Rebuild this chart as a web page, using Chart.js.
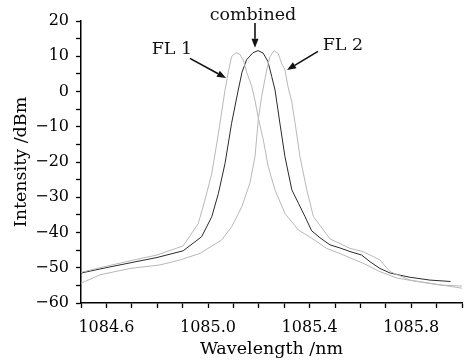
<!DOCTYPE html>
<html>
<head>
<meta charset="utf-8">
<script src="https://cdn.jsdelivr.net/npm/chart.js@4/dist/chart.umd.min.js"></script>
<style>
  html, body { margin: 0; padding: 0; background: #fff; }
  #wrap { width: 472px; height: 360px; }
</style>
</head>
<body>
<div id="wrap"><canvas id="chart_spec" width="472" height="360"></canvas></div>
<script>
// spectra (wavelength nm / intensity dBm)
var combWl = [1084.500, 1084.598, 1084.701, 1084.799, 1084.902, 1084.975, 1085.015, 1085.041, 1085.067, 1085.093,
              1085.119, 1085.134, 1085.152, 1085.177, 1085.197, 1085.217, 1085.236, 1085.251, 1085.264, 1085.283,
              1085.303, 1085.330, 1085.356, 1085.382, 1085.408, 1085.441, 1085.480, 1085.520, 1085.559, 1085.605,
              1085.638, 1085.677, 1085.717, 1085.795, 1085.874, 1085.955];
var combDb = [-51.5, -50.0, -48.5, -47.1, -45.2, -41.2, -35.5, -28.9, -20.4, -9.0,
              0.4, 5.5, 9.0, 11.0, 11.6, 10.9, 8.5, 4.2, 0.4, -9.0,
              -18.5, -27.9, -31.7, -35.5, -39.5, -41.5, -43.5, -44.4, -45.4, -46.4,
              -48.3, -50.2, -51.5, -52.7, -53.5, -53.9];

var fl1Wl = [1084.500, 1084.598, 1084.701, 1084.799, 1084.902, 1084.962, 1084.988, 1085.015, 1085.041, 1085.067,
             1085.079, 1085.093, 1085.110, 1085.126, 1085.140, 1085.152, 1085.172, 1085.185, 1085.198, 1085.218,
             1085.237, 1085.264, 1085.303, 1085.356, 1085.408, 1085.467, 1085.520, 1085.610, 1085.677, 1085.743,
             1085.822, 1085.913, 1086.000];
var fl1Db = [-51.3, -49.6, -47.9, -46.4, -43.8, -37.4, -30.8, -23.2, -11.9, 0.4,
             5.2, 9.9, 11.0, 10.5, 8.7, 5.5, 1.5, -2.5, -7.5, -13.8,
             -21.3, -28.0, -34.6, -39.3, -41.6, -44.5, -46.0, -48.7, -51.1, -52.9,
             -53.9, -54.9, -55.2];

var fl2Wl = [1084.500, 1084.575, 1084.693, 1084.811, 1084.890, 1084.969, 1085.054, 1085.093, 1085.133, 1085.165,
             1085.185, 1085.198, 1085.211, 1085.231, 1085.244, 1085.260, 1085.276, 1085.290, 1085.303, 1085.315,
             1085.330, 1085.343, 1085.362, 1085.389, 1085.415, 1085.441, 1085.480, 1085.559, 1085.610, 1085.650,
             1085.677, 1085.697, 1085.717, 1085.795, 1085.874, 1086.000];
var fl2Db = [-54.4, -52.0, -50.2, -49.2, -47.8, -45.9, -42.1, -38.4, -32.7, -26.0,
             -18.5, -8.0, -1.5, 6.1, 9.9, 11.6, 10.8, 8.0, 6.1, 1.4,
             -3.0, -9.0, -18.5, -27.9, -35.5, -38.0, -41.8, -44.5, -45.4, -46.8,
             -47.8, -49.5, -51.1, -53.5, -54.4, -55.8];

var xMin = 1084.5, xMax = 1086.0;
var yMin = -60, yMax = 20;

function pts(wl, db) {
    var out = [];
    for (var i = 0; i < wl.length; i++) out.push({x: wl[i], y: db[i]});
    return out;
}

var FONT = 'DejaVu Serif';

// labels with arrows, placed in data units
var notes = [
    {text: 'combined', tx: 1085.177, ty: 21.7, ax: 1085.185, ay: 19.4, bx: 1085.185, by: 12.4},
    {text: 'FL 1',     tx: 1084.858, ty: 11.8, ax: 1084.929, ay: 9.4,  bx: 1085.071, by: 3.8},
    {text: 'FL 2',     tx: 1085.531, ty: 13.2, ax: 1085.433, ay: 11.4, bx: 1085.311, by: 6.1}
];

var notePlugin = {
    id: 'notes',
    afterDatasetsDraw: function(chart) {
        var c = chart.ctx, xs = chart.scales.x, ys = chart.scales.y;
        c.save();
        c.fillStyle = '#111';
        c.strokeStyle = '#111';
        c.lineWidth = 1.6;
        c.font = '17.5px "' + FONT + '"';
        c.textAlign = 'center';
        c.textBaseline = 'middle';
        notes.forEach(function(n) {
            c.fillText(n.text, xs.getPixelForValue(n.tx), ys.getPixelForValue(n.ty));
            var x1 = xs.getPixelForValue(n.ax), y1 = ys.getPixelForValue(n.ay);
            var x2 = xs.getPixelForValue(n.bx), y2 = ys.getPixelForValue(n.by);
            var a = Math.atan2(y2 - y1, x2 - x1), L = 9, W = 3.5;
            var bx = x2 - L * Math.cos(a), by = y2 - L * Math.sin(a);
            c.beginPath();
            c.moveTo(x1, y1);
            c.lineTo(bx, by);
            c.stroke();
            c.beginPath();
            c.moveTo(x2, y2);
            c.lineTo(bx + W * Math.sin(a), by - W * Math.cos(a));
            c.lineTo(bx - W * Math.sin(a), by + W * Math.cos(a));
            c.closePath();
            c.fill();
        });
        c.restore();
    }
};

var ctx = document.getElementById('chart_spec').getContext('2d');
var chart = new Chart(ctx, {
    type: 'line',
    data: {
        datasets: [
            {label: 'FL 1', data: pts(fl1Wl, fl1Db), borderColor: '#b8b8b8', borderWidth: 1},
            {label: 'FL 2', data: pts(fl2Wl, fl2Db), borderColor: '#b8b8b8', borderWidth: 1},
            {label: 'combined', data: pts(combWl, combDb), borderColor: '#2a2a2a', borderWidth: 1}
        ]
    },
    options: {
        responsive: false,
        animation: false,
        events: [],
        elements: {point: {radius: 0}, line: {tension: 0}},
        layout: {padding: {top: 21, right: 10, left: 0, bottom: 0}},
        plugins: {legend: {display: false}, tooltip: {enabled: false}},
        scales: {
            x: {
                type: 'linear',
                min: xMin, max: xMax,
                afterFit: function(s) { s.height = 57; },
                border: {color: '#000', width: 1.5},
                grid: {drawOnChartArea: false, tickLength: 5, color: '#000', tickWidth: 1.3},
                ticks: {
                    stepSize: 0.1,
                    autoSkip: false,
                    maxRotation: 0,
                    padding: 10,
                    color: '#000',
                    font: {family: FONT, size: 16},
                    callback: function(v) {
                        var k = Math.round(v * 10);
                        return (k % 4 === 2) ? (k / 10).toFixed(1) : '';
                    }
                },
                title: {display: true, text: 'Wavelength /nm', color: '#000',
                        font: {family: FONT, size: 17.5}, padding: {top: 0, bottom: 0}}
            },
            y: {
                min: yMin, max: yMax,
                afterFit: function(s) { s.width = 81; },
                border: {color: '#000', width: 1.5},
                grid: {drawOnChartArea: false, tickLength: 5, color: '#000', tickWidth: 1.3},
                ticks: {
                    stepSize: 5,
                    autoSkip: false,
                    padding: 7,
                    color: '#000',
                    font: {family: FONT, size: 16},
                    callback: function(v) {
                        if (v % 10 !== 0) return '';
                        return v < 0 ? '\u2212' + Math.abs(v) : String(v);
                    }
                },
                title: {display: true, text: 'Intensity /dBm', color: '#000',
                        font: {family: FONT, size: 17.5}, padding: {top: 11, bottom: 0}}
            }
        }
    },
    plugins: [notePlugin]
});
</script>
</body>
</html>
